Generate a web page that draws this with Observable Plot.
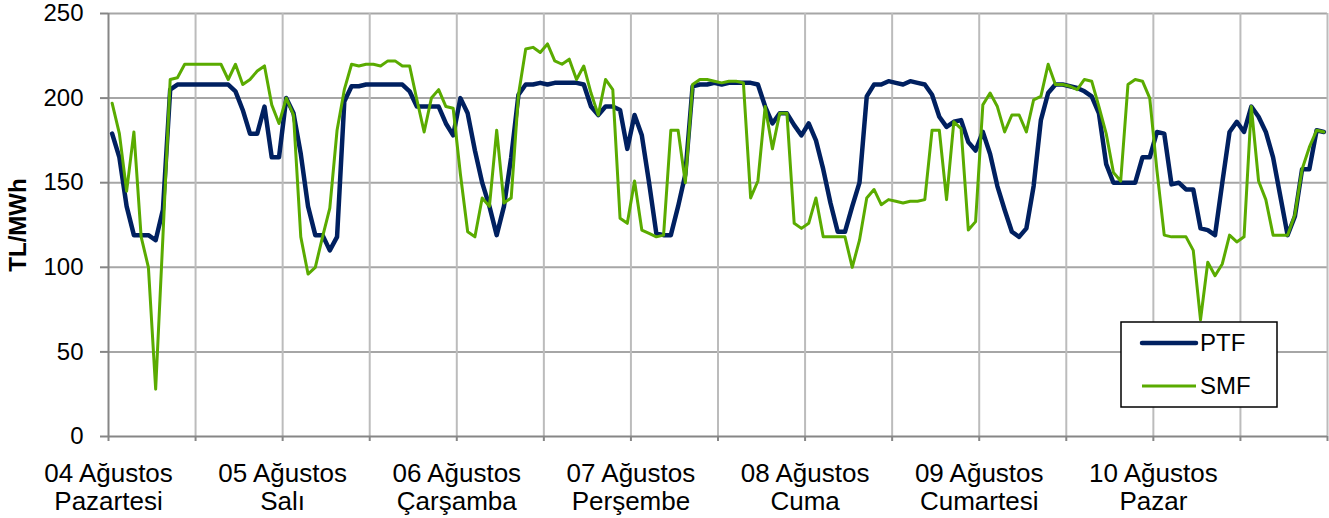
<!DOCTYPE html>
<html>
<head>
<meta charset="utf-8">
<script src="https://cdn.jsdelivr.net/npm/d3@7"></script>
<script src="https://cdn.jsdelivr.net/npm/@observablehq/plot@0.6"></script>
<style>
  html, body { margin: 0; padding: 0; background: #fff; }
  #chart { width: 1329px; height: 518px; }
</style>
</head>
<body>
<div id="chart"></div>
<script>
// Hourly values, 04–10 Ağustos (7 days × 24 hours)
const ptf = [
  179,165,136,119,119,119,116,134,205,208,208,208,208,208,208,208,208,204,193,179,179,195,165,165,
  200,191,167,136,119,119,110,118,198,207,207,208,208,208,208,208,208,204,195,195,195,195,185,178,
  200,191,169,150,136,119,136,165,202,208,208,209,208,209,209,209,209,208,195,190,195,195,193,170,
  190,178,150,120,119,119,136,155,207,208,208,209,208,209,209,209,209,208,195,185,191,191,184,178,
  185,175,158,138,121,121,136,150,201,208,208,210,209,208,210,209,208,202,189,183,186,187,174,169,
  180,167,148,134,121,118,123,148,187,203,208,208,207,206,204,201,191,161,150,150,150,150,165,165,
  180,179,149,150,146,146,123,122,119,150,180,186,180,195,189,180,165,142,119,130,158,158,181,180
];
const smf = [
  197,179,145,180,118,100,28,118,211,212,220,220,220,220,220,220,211,220,208,211,216,219,196,185,
  200,190,118,96,100,118,135,181,205,220,219,220,220,219,222,222,219,219,199,180,200,205,195,194,
  155,121,118,141,136,181,138,141,202,229,230,227,232,222,220,223,211,219,203,190,211,205,129,126,
  151,122,120,118,119,181,181,150,208,211,211,210,209,210,210,209,141,151,195,170,191,191,126,123,
  126,141,118,118,118,118,100,116,141,146,137,140,139,138,139,139,140,181,181,140,186,182,122,127,
  196,203,195,180,190,190,180,199,201,220,208,208,207,205,211,210,195,179,156,151,208,211,210,200,
  157,119,118,118,118,110,69,103,95,102,119,115,118,195,151,140,119,119,119,131,158,171,181,180
];
const dayDates = ["04 Ağustos","05 Ağustos","06 Ağustos","07 Ağustos","08 Ağustos","09 Ağustos","10 Ağustos"];
const dayNames = ["Pazartesi","Salı","Çarşamba","Perşembe","Cuma","Cumartesi","Pazar"];
const yTicks = [0,50,100,150,200,250];
const seriesNames = ["PTF","SMF"];
const seriesColors = ["#002060","#5aab00"];

const hoursPerDay = 24;
const nHours = ptf.length;
const ptfData = ptf.map((v, i) => ({h: i + 0.5, v}));
const smfData = smf.map((v, i) => ({h: i + 0.5, v}));
const dayStarts = dayDates.map((d, i) => i * hoursPerDay);
const halfDayTicks = d3.range(0, nHours + 1, hoursPerDay / 2);

const chart = Plot.plot({
  width: 1329,
  height: 518,
  marginLeft: 108,
  marginRight: 2,
  marginTop: 13,
  marginBottom: 82,
  x: {domain: [0, nHours]},
  y: {domain: [0, 250]},
  style: {fontFamily: "'Liberation Sans', Arial, sans-serif", color: "#000", background: "#fff"},
  marks: [
    Plot.gridY(yTicks.filter(d => d > 0), {stroke: "#a6a6a6", strokeOpacity: 1, strokeWidth: 2}),
    Plot.gridX(halfDayTicks.filter(d => d > 0), {stroke: "#bcbcbc", strokeOpacity: 1, strokeWidth: 2}),
    Plot.axisY({ticks: yTicks, tickSize: 8, tickPadding: 17, stroke: "#868686", strokeWidth: 2, fontSize: 24, label: null}),
    Plot.axisX({ticks: halfDayTicks, tickSize: 5, tickFormat: () => "", stroke: "#868686", strokeWidth: 2, label: null}),
    Plot.axisX({ticks: dayStarts, tickSize: 0, tickPadding: 25, fontSize: 26, lineHeight: 1.09,
      tickFormat: (d) => dayDates[d / hoursPerDay] + "\n" + dayNames[d / hoursPerDay], label: null}),
    Plot.ruleX([0], {stroke: "#868686", strokeWidth: 2}),
    Plot.ruleY([0], {stroke: "#868686", strokeWidth: 2}),
    Plot.text(["TL/MWh"], {frameAnchor: "left", textAnchor: "middle", rotate: -90, dx: -90, fontWeight: "bold", fontSize: 24, fill: "#000"}),
    Plot.line(ptfData, {x: "h", y: "v", stroke: seriesColors[0], strokeWidth: 4.5, strokeLinejoin: "round", strokeLinecap: "round"}),
    Plot.line(smfData, {x: "h", y: "v", stroke: seriesColors[1], strokeWidth: 3, strokeLinejoin: "round"})
  ]
});

// Legend box inside plot area (lower right)
const svg = d3.select(chart);
const lg = svg.append("g").attr("transform", "translate(1121,322)");
lg.append("rect").attr("width", 156).attr("height", 85).attr("fill", "#fff").attr("stroke", "#000").attr("stroke-width", 1.5);
seriesNames.forEach((name, i) => {
  const y = 21 + i * 43;
  lg.append("line").attr("x1", 21).attr("x2", 75).attr("y1", y).attr("y2", y)
    .attr("stroke", seriesColors[i]).attr("stroke-width", i === 0 ? 4.5 : 3).attr("stroke-linecap", i === 0 ? "round" : "butt");
  lg.append("text").attr("x", 79).attr("y", y).attr("dy", "0.35em")
    .attr("text-anchor", "start")
    .attr("font-size", 24).attr("fill", "#000").text(name);
});

document.getElementById("chart").appendChild(chart);
</script>
</body>
</html>
